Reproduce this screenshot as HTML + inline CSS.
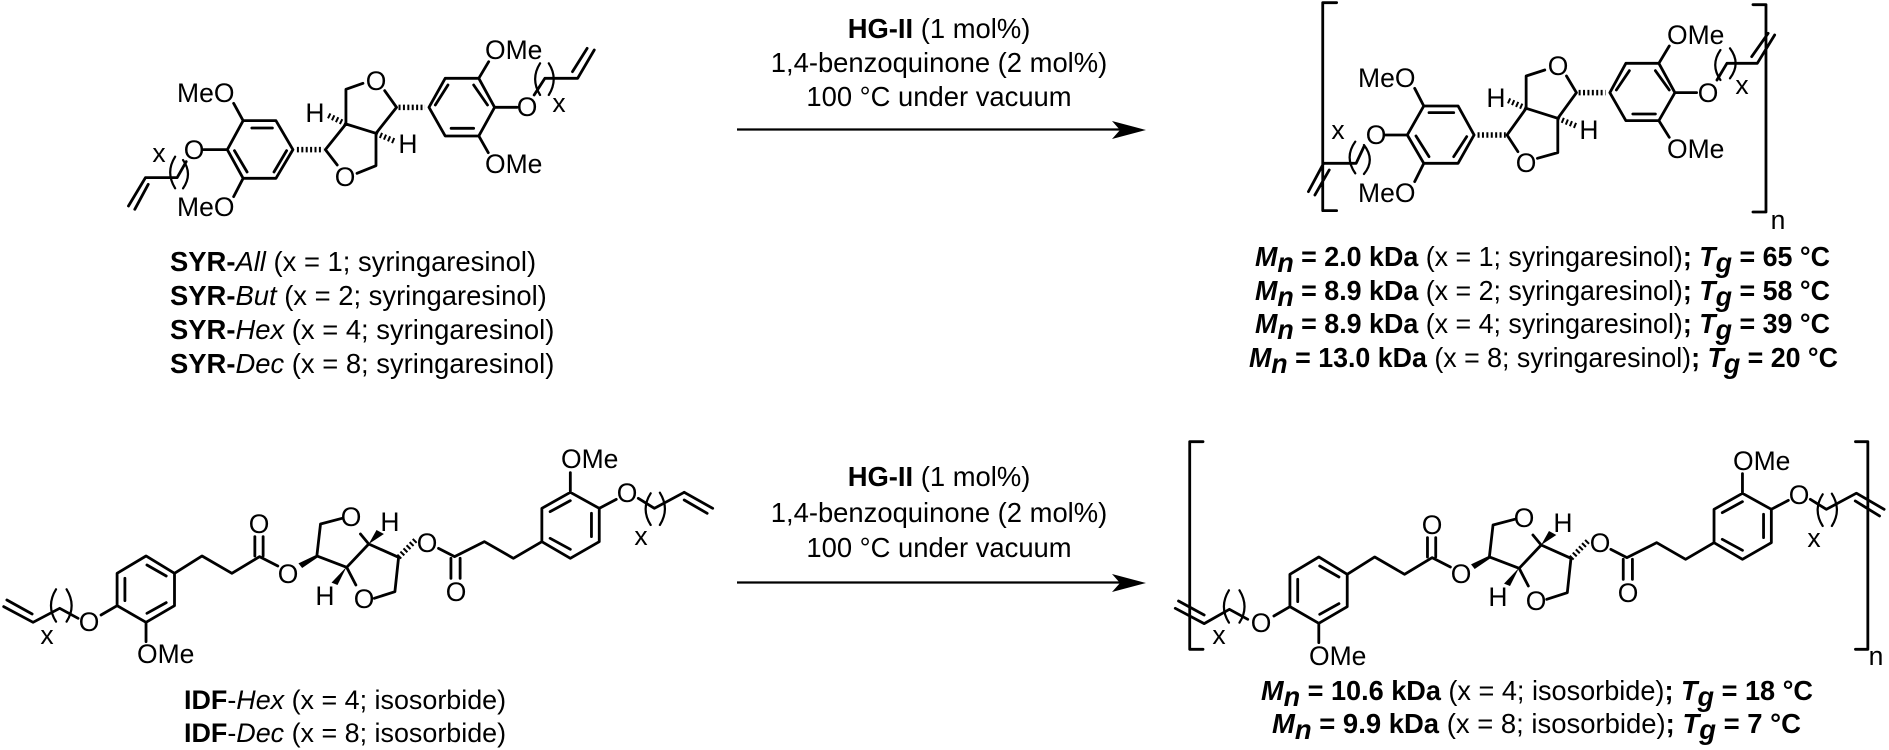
<!DOCTYPE html>
<html><head><meta charset="utf-8"><style>
html,body{margin:0;padding:0;background:#fff;width:1889px;height:750px;overflow:hidden}
svg{display:block}
text{font-family:"Liberation Sans",Arial,sans-serif;font-size:26.5px;fill:#000}
.l{font-size:27.4px}
.i{font-size:26.9px}
.r{font-size:28px}
.m{text-anchor:middle}
.b{stroke:#000;stroke-width:2.8;fill:none;stroke-linecap:round;stroke-linejoin:round;vector-effect:non-scaling-stroke}
.t{stroke-width:2.2}
.h{stroke:#000;stroke-width:5.5;stroke-dasharray:2 2.4;fill:none;vector-effect:non-scaling-stroke}
.bd{font-weight:bold}.it{font-style:italic}
</style></head><body>
<svg width="1889" height="750" viewBox="0 0 1889 750" xmlns="http://www.w3.org/2000/svg">
<defs>
<g id="idf">
<path class="b" d="M220 555L255 527V430L318 378L380 430V527L318 577L255 527M272 445V512M320 405L362 438M320 550L362 518M318 577V635M380 430L440 378L505 430L565 380L605 408M555 378V320M573 378V320M690 378L698 282L745 265M690 378L755 412L803 342L868 382L860 485L815 505M755 412L775 465M803 342L785 312M955 355L990 380L1055 335L1118 385L1180 335V235L1242 187L1305 235V335L1242 385L1180 335M1198 245L1242 212M1288 250V320M1198 325L1242 358M1242 187V128M1305 235L1342 208M982 385V445M1002 385V445M1390 205L1425 235L1490 187"/>
<path d="M650 400L690 374L692 382L658 414Z" fill="#000"/>
<path d="M755 410L735 465L722 458Z" fill="#000"/>
<path d="M803 342L820 300L836 312Z" fill="#000"/>
<line class="h" x1="868" y1="382" x2="905" y2="330"/>
<path class="b t" d="M122 478Q100 527 122 575M145 478Q167 527 145 575M1417 190Q1395 237 1417 285M1437 188Q1459 237 1437 285"/>
</g>
</defs>

<!-- Molecule 1 -->
<g transform="translate(100,0) scale(.3954,.3333)">
<path class="b" d="M362 362H445L488 449L445 535H362L322 449ZM384 384H436M340 452L372 516M440 516L472 452M362 362L338 310M322 449H262M362 535L338 590M218 485L195 533H115L72 618M122 553L88 628M570 449L622 372L698 400L750 322L720 272M665 250L622 268V372M570 449L600 495M650 520L698 497V400M832 322L873 235H958L998 322L958 408H873ZM848 315L880 255M945 255L980 315M888 385H945M958 235L983 185M958 408L982 458M998 322H1055M1098 285L1125 235H1208L1250 150M1195 215L1232 145"/>
<path class="b t" d="M190 470Q165 517 190 565M210 480Q235 522 210 565M1113 190Q1088 237 1113 285M1135 190Q1160 237 1135 285"/>
<line class="h" x1="498" y1="449" x2="565" y2="449"/><line class="h" x1="622" y1="372" x2="575" y2="345"/><line class="h" x1="698" y1="400" x2="748" y2="425"/><line class="h" x1="755" y1="322" x2="822" y2="322"/>
</g>
<text x="177" y="102">MeO</text><text class="m" x="194" y="159">O</text><text x="177" y="216">MeO</text><text class="m" x="159" y="162">x</text>
<text class="m" x="345" y="186">O</text><text class="m" x="376" y="90">O</text><text class="m" x="315" y="122">H</text><text class="m" x="408" y="153">H</text>
<text x="485" y="59">OMe</text><text x="485" y="173">OMe</text><text class="m" x="527" y="116">O</text><text class="m" x="559" y="112">x</text>

<!-- Labels left top -->
<text class="l" x="170" y="271"><tspan class="bd">SYR-</tspan><tspan class="it">All</tspan> (x = 1; syringaresinol)</text>
<text class="l" x="170" y="305"><tspan class="bd">SYR-</tspan><tspan class="it">But</tspan> (x = 2; syringaresinol)</text>
<text class="l" x="170" y="339"><tspan class="bd">SYR-</tspan><tspan class="it">Hex</tspan> (x = 4; syringaresinol)</text>
<text class="l" x="170" y="373"><tspan class="bd">SYR-</tspan><tspan class="it">Dec</tspan> (x = 8; syringaresinol)</text>

<!-- Top reaction -->
<text class="m l" x="939" y="38"><tspan class="bd">HG-II</tspan> (1 mol%)</text>
<text class="m l" x="939" y="72">1,4-benzoquinone (2 mol%)</text>
<text class="m l" x="939" y="106">100 °C under vacuum</text>
<path d="M737 129.500H1120" stroke="#000" stroke-width="2.200"/>
<path d="M1146 130L1112 121L1120 130L1112 139Z" fill="#000"/>

<!-- Molecule 2 -->
<g transform="translate(1200,0) scale(.4337,.3333)">
<path class="b" d="M315 8H283V632H315M1275 14H1305V636H1275M516 318H595L632 405L595 490H516L478 405ZM528 338H585M498 408L528 470M585 470L615 410M516 318L495 265M478 405H425M516 490L495 545M378 440L360 490H285L250 575M298 510L265 585M708 405L752 325L825 355L868 278L845 228M795 210L752 228V325M708 405L733 455M778 475L825 458V355M945 278L982 190H1058L1095 278L1058 362H982ZM960 270L990 212M1050 212L1082 270M998 342H1050M1058 190L1082 138M1058 362L1082 412M1095 278H1145M1192 240L1215 190H1285L1325 105M1272 170L1310 100"/>
<path class="b t" d="M358 425Q332 472 358 520M378 435Q405 480 378 522M1200 150Q1176 195 1200 240M1222 145Q1248 190 1222 235"/>
<line class="h" x1="640" y1="405" x2="705" y2="405"/><line class="h" x1="752" y1="325" x2="708" y2="300"/><line class="h" x1="825" y1="355" x2="868" y2="378"/><line class="h" x1="873" y1="278" x2="935" y2="278"/>
</g>
<text x="1358" y="87">MeO</text><text class="m" x="1376" y="144">O</text><text x="1358" y="202">MeO</text><text class="m" x="1338" y="139">x</text>
<text class="m" x="1526" y="172">O</text><text class="m" x="1558" y="75">O</text><text class="m" x="1496" y="107">H</text><text class="m" x="1589" y="139">H</text>
<text x="1667" y="44">OMe</text><text x="1667" y="158">OMe</text><text class="m" x="1708" y="102">O</text><text class="m" x="1742" y="94">x</text><text class="m" x="1778" y="229">n</text>

<!-- Labels right top -->
<text class="r" x="1255" y="266" textLength="575" lengthAdjust="spacingAndGlyphs"><tspan class="bd it">M</tspan><tspan class="bd it" dy="6">n</tspan><tspan class="bd" dy="-6"> = 2.0 kDa</tspan> (x = 1; syringaresinol)<tspan class="bd">; </tspan><tspan class="bd it">T</tspan><tspan class="bd it" dy="6">g</tspan><tspan class="bd" dy="-6"> = 65 °C</tspan></text>
<text class="r" x="1255" y="300" textLength="575" lengthAdjust="spacingAndGlyphs"><tspan class="bd it">M</tspan><tspan class="bd it" dy="6">n</tspan><tspan class="bd" dy="-6"> = 8.9 kDa</tspan> (x = 2; syringaresinol)<tspan class="bd">; </tspan><tspan class="bd it">T</tspan><tspan class="bd it" dy="6">g</tspan><tspan class="bd" dy="-6"> = 58 °C</tspan></text>
<text class="r" x="1255" y="333" textLength="575" lengthAdjust="spacingAndGlyphs"><tspan class="bd it">M</tspan><tspan class="bd it" dy="6">n</tspan><tspan class="bd" dy="-6"> = 8.9 kDa</tspan> (x = 4; syringaresinol)<tspan class="bd">; </tspan><tspan class="bd it">T</tspan><tspan class="bd it" dy="6">g</tspan><tspan class="bd" dy="-6"> = 39 °C</tspan></text>
<text class="r" x="1249" y="367" textLength="589" lengthAdjust="spacingAndGlyphs"><tspan class="bd it">M</tspan><tspan class="bd it" dy="6">n</tspan><tspan class="bd" dy="-6"> = 13.0 kDa</tspan> (x = 8; syringaresinol)<tspan class="bd">; </tspan><tspan class="bd it">T</tspan><tspan class="bd it" dy="6">g</tspan><tspan class="bd" dy="-6"> = 20 °C</tspan></text>

<!-- Molecule 3 -->
<g transform="translate(0,430) scale(.4592,.3333)">
<use href="#idf"/>
<path class="b" d="M170 565L130 535L72 577L8 530M15 510L70 552M1490 187L1552 235M1490 210L1540 250"/>
</g>
<text class="m" x="89" y="631">O</text><text class="m" x="47" y="644">x</text><text x="137" y="663">OMe</text><text class="m" x="259" y="533">O</text><text class="m" x="288" y="583">O</text><text class="m" x="351" y="526">O</text><text class="m" x="364" y="608">O</text><text class="m" x="390" y="531">H</text><text class="m" x="325" y="605">H</text><text class="m" x="427" y="552">O</text><text class="m" x="456" y="601">O</text><text x="561" y="468">OMe</text><text class="m" x="627" y="502">O</text><text class="m" x="641" y="545">x</text>
<text class="i" x="184" y="709"><tspan class="bd">IDF</tspan>-<tspan class="it">Hex</tspan> (x = 4; isosorbide)</text>
<text class="i" x="184" y="742"><tspan class="bd">IDF</tspan>-<tspan class="it">Dec</tspan> (x = 8; isosorbide)</text>

<!-- Bottom reaction -->
<text class="m l" x="939" y="486"><tspan class="bd">HG-II</tspan> (1 mol%)</text>
<text class="m l" x="939" y="522">1,4-benzoquinone (2 mol%)</text>
<text class="m l" x="939" y="557">100 °C under vacuum</text>
<path d="M737 582.500H1120" stroke="#000" stroke-width="2.200"/>
<path d="M1146 583L1112 574L1120 583L1112 592Z" fill="#000"/>

<!-- Molecule 4 -->
<g transform="translate(1173,431) scale(.4585,.3333)">
<use href="#idf"/>
<path class="b" d="M163 565L123 535L68 578L5 532M12 510L68 552M1491 187L1551 235M1488 210L1541 255"/>
</g>
<g transform="translate(1170,430) scale(.4585,.3333)"><path class="b" d="M72 35H43V658H72M1495 35H1522V658H1495"/></g>
<text class="m" x="1261" y="632">O</text><text class="m" x="1219" y="644">x</text><text x="1309" y="665">OMe</text><text class="m" x="1432" y="534">O</text><text class="m" x="1461" y="583">O</text><text class="m" x="1524" y="527">O</text><text class="m" x="1536" y="610">O</text><text class="m" x="1563" y="532">H</text><text class="m" x="1498" y="606">H</text><text class="m" x="1600" y="552">O</text><text class="m" x="1628" y="602">O</text><text x="1733" y="470">OMe</text><text class="m" x="1799" y="504">O</text><text class="m" x="1814" y="547">x</text><text class="m" x="1876" y="665">n</text>

<text class="r" x="1261" y="700" textLength="552" lengthAdjust="spacingAndGlyphs"><tspan class="bd it">M</tspan><tspan class="bd it" dy="6">n</tspan><tspan class="bd" dy="-6"> = 10.6 kDa</tspan> (x = 4; isosorbide)<tspan class="bd">; </tspan><tspan class="bd it">T</tspan><tspan class="bd it" dy="6">g</tspan><tspan class="bd" dy="-6"> = 18 °C</tspan></text>
<text class="r" x="1272" y="733" textLength="529" lengthAdjust="spacingAndGlyphs"><tspan class="bd it">M</tspan><tspan class="bd it" dy="6">n</tspan><tspan class="bd" dy="-6"> = 9.9 kDa</tspan> (x = 8; isosorbide)<tspan class="bd">; </tspan><tspan class="bd it">T</tspan><tspan class="bd it" dy="6">g</tspan><tspan class="bd" dy="-6"> = 7 °C</tspan></text>
</svg>
</body></html>
